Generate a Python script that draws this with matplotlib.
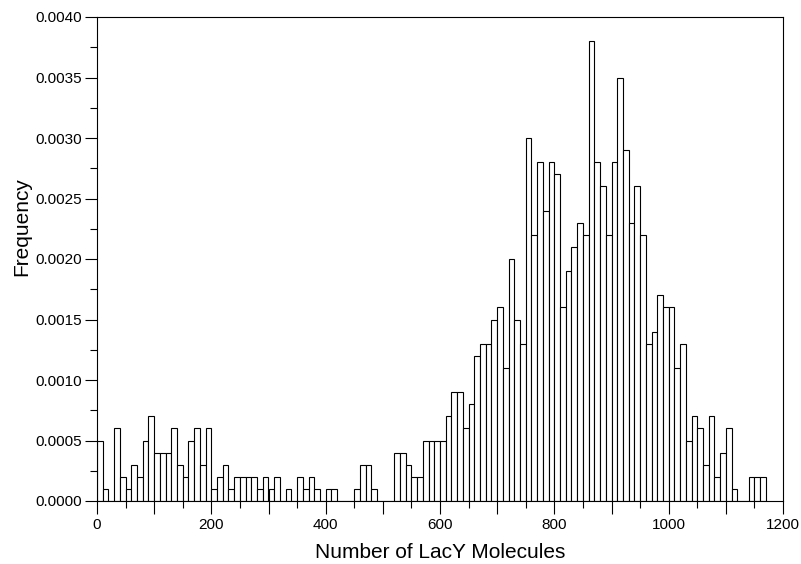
import matplotlib
matplotlib.use("Agg")
import matplotlib.pyplot as plt
import numpy as np
from matplotlib.ticker import MultipleLocator, FixedLocator, FuncFormatter

plt.rcParams['font.family'] = ['Liberation Sans', 'DejaVu Sans']

# histogram of LacY molecule counts, bins of width 10 starting at 0
bin_width = 10
bin_starts = np.arange(0, 1170, bin_width)
# heights, in units of 0.0001
counts = [
    5, 1, 0, 6, 2, 1, 3, 2, 5, 7,
    4, 4, 4, 6, 3, 2, 5, 6, 3, 6,
    1, 2, 3, 1, 2, 2, 2, 2, 1, 2,
    1, 2, 0, 1, 0, 2, 1, 2, 1, 0,
    1, 1, 0, 0, 0, 1, 3, 3, 1, 0,
    0, 0, 4, 4, 3, 2, 2, 5, 5, 5,
    5, 7, 9, 9, 6, 8, 12, 13, 13, 15,
    16, 11, 20, 15, 13, 30, 22, 28, 24, 28,
    27, 16, 19, 21, 23, 22, 38, 28, 26, 22,
    28, 35, 29, 23, 26, 22, 13, 14, 17, 16,
    16, 11, 13, 5, 7, 6, 3, 7, 2, 4,
    6, 1, 0, 0, 2, 2, 2,
]
freq = np.array(counts) * 1e-4

x_label = "Number of LacY Molecules"
y_label = "Frequency"

fig = plt.figure(figsize=(8.01, 5.64), dpi=100, facecolor="white")
ax = fig.add_axes([97 / 801, 63 / 564, 686 / 801, 484 / 564])

ax.bar(bin_starts, freq, width=bin_width, align="edge",
       color="white", edgecolor="black", linewidth=0.8)

ax.set_xlim(0, 1200)
ax.set_ylim(0, 0.004)

# x: ticks every 100 (labels every 200), minor every 50
ax.xaxis.set_major_locator(MultipleLocator(100))
ax.xaxis.set_minor_locator(FixedLocator(np.arange(50, 1200, 100)))
ax.xaxis.set_major_formatter(
    FuncFormatter(lambda v, p: f"{int(v)}" if int(round(v)) % 200 == 0 else ""))

# y: ticks every 0.0005, minor every 0.00025
ax.yaxis.set_major_locator(MultipleLocator(0.0005))
ax.yaxis.set_minor_locator(MultipleLocator(0.00025))
ax.yaxis.set_major_formatter(FuncFormatter(lambda v, p: f"{v:.4f}"))

ax.tick_params(which="major", direction="out", length=9, width=0.8,
               labelsize=11, pad=2, top=False, right=False)
ax.tick_params(which="minor", direction="out", length=5, width=0.8,
               top=False, right=False)
ax.tick_params(axis="x", which="major", pad=3)

for s in ax.spines.values():
    s.set_linewidth(0.8)

ax.set_xlabel(x_label, fontsize=15)
ax.xaxis.set_label_coords(0.5, -0.086)
ax.set_ylabel(y_label, fontsize=15)
ax.yaxis.set_label_coords(-0.096, 0.566)

plt.savefig("out.png", dpi=100, facecolor="white")
plt.close(fig)
